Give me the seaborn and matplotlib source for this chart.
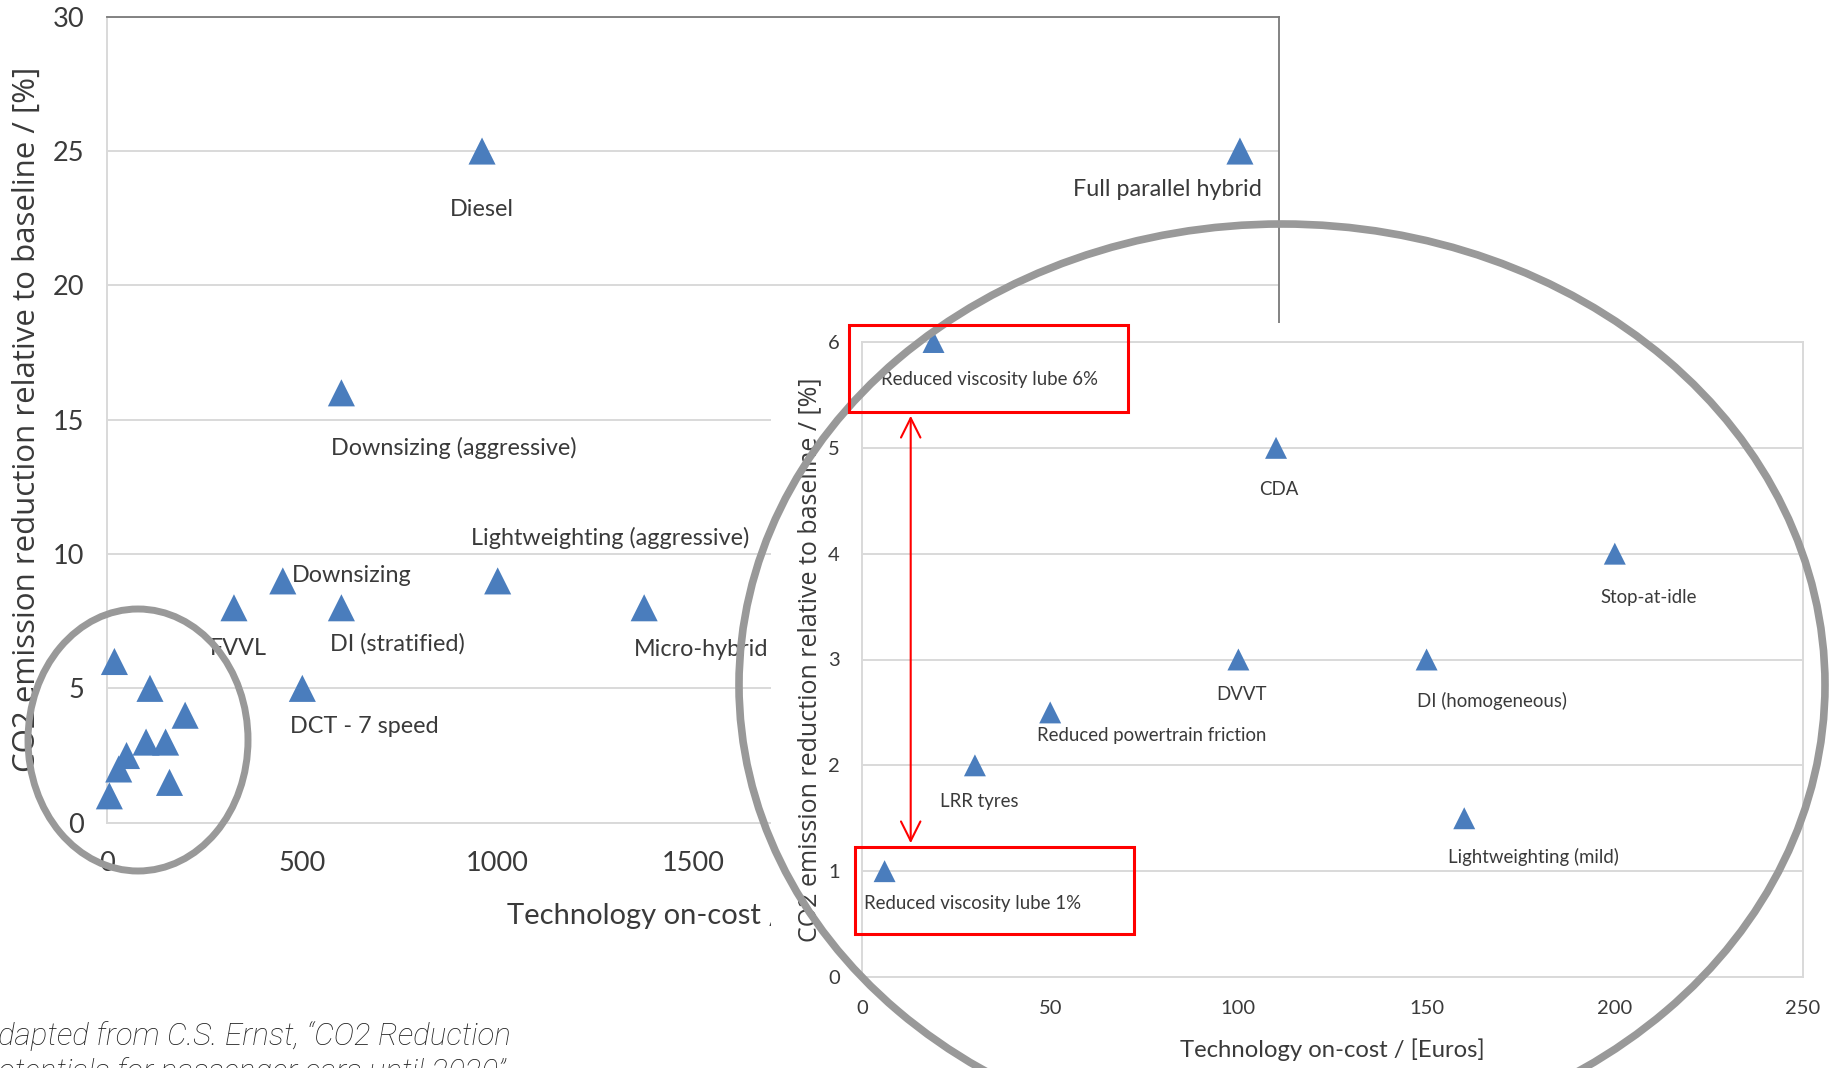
import numpy as np
import pandas as pd
import matplotlib
matplotlib.use("Agg")
import matplotlib.pyplot as plt
import seaborn as sns
from matplotlib.patches import Ellipse, Rectangle, FancyArrowPatch

# ---------------- data ----------------
technologies = [
    "Diesel", "Full parallel hybrid", "Downsizing (aggressive)", "Downsizing",
    "Lightweighting (aggressive)", "FVVL", "DI (stratified)", "Micro-hybrid",
    "DCT - 7 speed", "Reduced viscosity lube 6%", "CDA", "Stop-at-idle", "DVVT",
    "DI (homogeneous)", "Reduced powertrain friction", "LRR tyres",
    "Lightweighting (mild)", "Reduced viscosity lube 1%",
]
cost_eur = [960, 2900, 600, 450, 1000, 325, 600, 1375, 500,
            19, 110, 200, 100, 150, 50, 30, 160, 6]
co2_reduction = [25, 25, 16, 9, 9, 8, 8, 8, 5,
                 6, 5, 4, 3, 3, 2.5, 2, 1.5, 1]

main_xticks = [0, 500, 1000, 1500, 2000, 2500, 3000]
main_yticks = [0, 5, 10, 15, 20, 25, 30]
inset_xticks = [0, 50, 100, 150, 200, 250]
inset_yticks = [0, 1, 2, 3, 4, 5, 6]
x_label = "Technology on-cost / [Euros]"
y_label = "CO2 emission reduction relative to baseline / [%]"
caption_lines = ["Adapted from C.S. Ernst, \u201cCO2 Reduction",
                 "Potentials for passenger cars until 2020\u201d"]
inset_max_cost = 250

# label offsets (layout, in points): name -> (dx, dy)
main_label_offsets = {
    "Diesel": (0, -42), "Full parallel hybrid": (-52, -28),
    "Downsizing (aggressive)": (81, -40), "Downsizing": (50, 4),
    "Lightweighting (aggressive)": (81, 31), "FVVL": (3, -29.5),
    "DI (stratified)": (40, -26), "Micro-hybrid": (41, -30),
    "DCT - 7 speed": (44.6, -27.4),
}
inset_label_offsets = {
    "Reduced viscosity lube 6%": (40, -27), "CDA": (2, -30),
    "Stop-at-idle": (24.5, -31.7), "DVVT": (2, -25),
    "DI (homogeneous)": (47, -29.5), "Reduced powertrain friction": (73, -16.6),
    "LRR tyres": (3, -26), "Lightweighting (mild)": (50, -28),
    "Reduced viscosity lube 1%": (63, -23),
}

df = pd.DataFrame({"tech": technologies, "cost": cost_eur, "co2": co2_reduction})
inset_df = df[df["cost"] <= inset_max_cost]

# ---------------- style ----------------
sns.set_style("white")
plt.rcParams["font.family"] = ["Lato", "DejaVu Sans"]
BLUE = "#4a7dbd"
TXT = "#3a3a3a"
GRID = "#d9d9d9"

W, H = 1831, 1068
fig = plt.figure(figsize=(W / 100, H / 100), dpi=100)


def frac(x0, y0, x1, y1):
    return [x0 / W, 1 - y1 / H, (x1 - x0) / W, (y1 - y0) / H]


# ---------------- main chart ----------------
ax = fig.add_axes(frac(107, 16.7, 1279, 822.7), zorder=1)
sns.scatterplot(data=df, x="cost", y="co2", marker="^", s=380, color=BLUE,
                edgecolor="none", ax=ax, clip_on=False, zorder=3)
ax.set_xlim(0, 3000)
ax.set_ylim(0, 30)
ax.set_xticks(main_xticks)
ax.set_yticks(main_yticks)
ax.yaxis.grid(True, color=GRID, lw=1.4)
ax.xaxis.grid(False)
ax.set_axisbelow(True)
for s in ["top", "right"]:
    ax.spines[s].set_color("#7a7a7a")
    ax.spines[s].set_linewidth(1.3)
for s in ["left", "bottom"]:
    ax.spines[s].set_color(GRID)
    ax.spines[s].set_linewidth(1.4)
ax.tick_params(axis="x", length=6.5, width=1.2, color=GRID, pad=14,
               labelsize=19.5, labelcolor=TXT)
ax.tick_params(axis="y", length=6.5, width=1.2, color=GRID, pad=10,
               labelsize=19.5, labelcolor=TXT)
ax.set_xlabel(x_label, fontsize=21, color=TXT, va="center")
ax.xaxis.set_label_coords(0.5, (822.7 - 915) / 806)
ax.set_ylabel(y_label, fontsize=22.5, color=TXT, va="center",
              family=["Open Sans", "DejaVu Sans"])
ax.yaxis.set_label_coords((27 - 107) / 1172, 0.5)
for _, r in df.iterrows():
    if r["tech"] in main_label_offsets:
        ax.annotate(r["tech"], (r["cost"], r["co2"]), xytext=main_label_offsets[r["tech"]],
                    textcoords="offset points", ha="center", va="center",
                    fontsize=16.8, color=TXT)

# ---------------- inset backdrop ----------------
bg = fig.add_axes(frac(771, 323, 1831, 1068), zorder=2)
bg.set_facecolor("white")
bg.set_xticks([])
bg.set_yticks([])
for s in bg.spines.values():
    s.set_visible(False)

# ---------------- inset chart ----------------
axi = fig.add_axes(frac(862, 342, 1803, 977), zorder=3)
axi.set_facecolor("white")
sns.scatterplot(data=inset_df, x="cost", y="co2", marker="^", s=250, color=BLUE,
                edgecolor="none", ax=axi, clip_on=False, zorder=3)
axi.set_xlim(0, 250)
axi.set_ylim(0, 6)
axi.set_xticks(inset_xticks)
axi.set_yticks(inset_yticks)
axi.yaxis.grid(True, color=GRID, lw=1.4)
axi.xaxis.grid(False)
axi.set_axisbelow(True)
for s in axi.spines.values():
    s.set_color(GRID)
    s.set_linewidth(1.4)
axi.tick_params(axis="x", length=5.5, width=1.2, color=GRID, pad=11,
                labelsize=14.5, labelcolor=TXT)
axi.tick_params(axis="y", length=5, width=1.2, color=GRID, pad=11,
                labelsize=14.5, labelcolor=TXT)
axi.set_xlabel(x_label, fontsize=17.2, color=TXT, va="center")
axi.xaxis.set_label_coords(0.5, (977 - 1050) / 635)
axi.set_ylabel(y_label, fontsize=18, color=TXT, va="center",
               family=["Open Sans", "DejaVu Sans"])
axi.yaxis.set_label_coords((810 - 862) / 941, 0.5)
for _, r in inset_df.iterrows():
    if r["tech"] in inset_label_offsets:
        axi.annotate(r["tech"], (r["cost"], r["co2"]), xytext=inset_label_offsets[r["tech"]],
                     textcoords="offset points", ha="center", va="center",
                     fontsize=13.4, color=TXT)

# ---------------- overlay annotations (pixel space) ----------------
ov = fig.add_axes([0, 0, 1, 1], zorder=5)
ov.set_xlim(0, W)
ov.set_ylim(H, 0)
ov.axis("off")
ov.patch.set_alpha(0)
ov.add_patch(Ellipse((1282, 685), 1086, 922, fill=False, ec="#999999", lw=5.5))
ov.add_patch(Ellipse((138, 740), 220, 262, fill=False, ec="#999999", lw=5))
ov.add_patch(Rectangle((849, 325), 279, 87, fill=False, ec="#ff0000", lw=2.2))
ov.add_patch(Rectangle((855, 847), 279, 87, fill=False, ec="#ff0000", lw=2.2))
ov.add_patch(FancyArrowPatch((910.7, 413), (910.7, 846),
                             arrowstyle="<->,head_length=14,head_width=7",
                             mutation_scale=1, color="#ff0000", lw=1.5))
ov.text(-20, 1045, caption_lines[0], fontsize=22.5, family=["Roboto", "DejaVu Sans"],
        style="italic", weight="light", color="#222222", va="baseline", ha="left")
ov.text(-20, 1081, caption_lines[1], fontsize=22.5, family=["Roboto", "DejaVu Sans"],
        style="italic", weight="light", color="#222222", va="baseline", ha="left")

fig.savefig("out.png", dpi=100)
